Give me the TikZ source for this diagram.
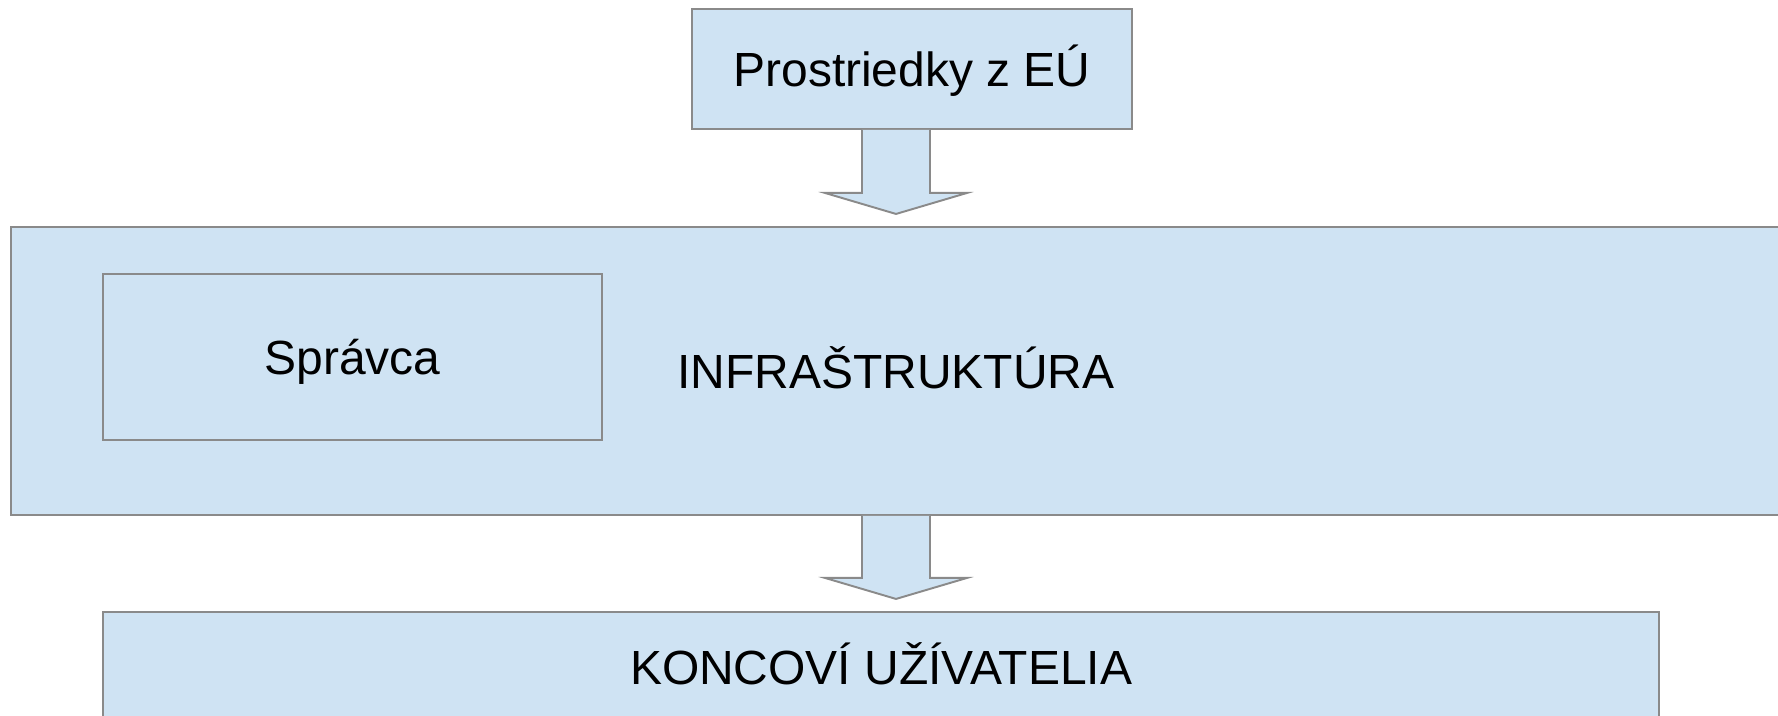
\documentclass[tikz,border=0pt]{standalone}
\usepackage{fontspec}
\setmainfont{Liberation Sans}
\usepackage{tikz}
\usetikzlibrary{calc,positioning}
\definecolor{boxfill}{HTML}{CFE3F3}
\definecolor{boxline}{HTML}{8A8A8A}

\begin{document}
\begin{tikzpicture}[x=0.02cm, y=-0.02cm,
  block/.style={rectangle, draw=boxline, fill=boxfill, line width=1.1pt,
    inner sep=0pt, font=\fontsize{27.3}{32}\selectfont,
    text height=19.6pt, text depth=0pt},
  blockarrow/.style={draw=boxline, fill=boxfill, line width=1.1pt, line join=miter},
]
  \useasboundingbox (0,0) rectangle (1778,716);

  % === boxes ===
  \node[block, minimum width=8.8cm, minimum height=2.4cm]    (eu)    at (912,69)  {Prostriedky z EÚ};
  \node[block, minimum width=35.4cm, minimum height=5.76cm]  (infra) at (896,371) {INFRAŠTRUKTÚRA};
  \node[block, minimum width=9.98cm, minimum height=3.32cm]  (spr)   at (352.5,357) {Správca};
  \node[block, minimum width=31.14cm, minimum height=2.2cm]  (users) at (881,667) {KONCOVÍ UŽÍVATELIA};

  % === arrow axis ===
  \coordinate (ax) at (896,0);

  % === block arrows ===
  \draw[blockarrow] ($(eu.south -| ax)+(-34,0)$) -- ++(0,63) -- ++(-37,0)
    -- ($(eu.south -| ax)+(0,84)$) -- ($(eu.south -| ax)+(71,63)$)
    -- ++(-37,0) -- ($(eu.south -| ax)+(34,0)$);
  \draw[blockarrow] ($(infra.south -| ax)+(-34,0)$) -- ++(0,62) -- ++(-37,0)
    -- ($(infra.south -| ax)+(0,83)$) -- ($(infra.south -| ax)+(71,62)$)
    -- ++(-37,0) -- ($(infra.south -| ax)+(34,0)$);

\end{tikzpicture}
\end{document}
